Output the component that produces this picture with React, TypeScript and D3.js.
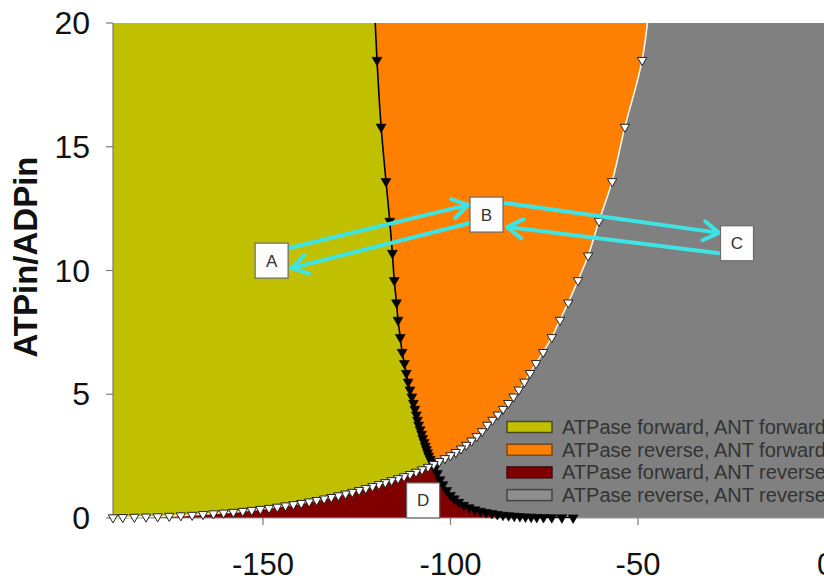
import React from 'react';
import * as d3 from 'd3';

const W = 824;
const H = 583;

const xDomain: [number, number] = [-190, 0];
const yDomain: [number, number] = [0, 20];
const xTicks = [-150, -100, -50, 0];
const yTicks = [0, 5, 10, 15, 20];

// ATPase boundary (black, filled down-triangles): [x, y]
const blackCurve: [number, number][] = [
  [-120.5, 21.5], [-119.6, 18.5], [-118.5, 15.8], [-117.2, 13.6], [-116.2, 12.0], [-115.5, 10.7],
  [-115.0, 9.6], [-114.4, 8.7], [-114.0, 8.0], [-113.4, 7.3], [-112.9, 6.7], [-112.3, 6.25],
  [-111.8, 5.85], [-111.3, 5.5], [-110.8, 5.18], [-110.3, 4.9], [-109.9, 4.64], [-109.5, 4.4],
  [-109.1, 4.17], [-108.8, 3.96], [-108.5, 3.76], [-108.1, 3.57], [-107.7, 3.39], [-107.4, 3.22],
  [-107.0, 3.06], [-106.7, 2.91], [-106.4, 2.77], [-106.1, 2.64], [-105.8, 2.51], [-105.4, 2.38],
  [-105.0, 2.26], [-104.6, 2.15], [-104.2, 2.0], [-103.5, 1.8], [-102.8, 1.55], [-102.0, 1.35],
  [-101.0, 1.12], [-100.0, 0.92], [-99.0, 0.78], [-97.8, 0.64], [-96.5, 0.52], [-95.0, 0.42],
  [-93.5, 0.34], [-92.0, 0.28], [-90.5, 0.23], [-89.0, 0.19], [-87.5, 0.15], [-86.0, 0.12],
  [-84.5, 0.10], [-83.0, 0.08], [-81.5, 0.065], [-80.0, 0.05], [-78.5, 0.04], [-77.0, 0.03],
  [-75.2, 0.025], [-73.0, 0.02], [-70.3, 0.015], [-67.3, 0.01],
];

// ANT boundary (white, open down-triangles): [x, y]
const whiteCurve: [number, number][] = [
  [-46.5, 21.5], [-48.9, 18.5], [-53.5, 15.8], [-56.9, 13.6], [-60.4, 12.0], [-63.3, 10.6],
  [-66.0, 9.6], [-68.6, 8.7], [-70.8, 8.0], [-73.0, 7.3], [-75.3, 6.7], [-77.2, 6.25],
  [-78.8, 5.85], [-80.3, 5.5], [-81.8, 5.18], [-83.2, 4.9], [-84.6, 4.64], [-86.0, 4.4],
  [-87.4, 4.17], [-88.8, 3.96], [-90.2, 3.76], [-91.6, 3.5], [-93.0, 3.3], [-94.4, 3.12],
  [-95.8, 2.95], [-97.2, 2.8], [-98.6, 2.66], [-100.0, 2.53], [-101.5, 2.41], [-103.0, 2.29],
  [-104.5, 2.17], [-106.0, 2.06], [-107.6, 1.96], [-109.2, 1.86], [-110.8, 1.77], [-112.4, 1.68],
  [-114.0, 1.6], [-115.7, 1.52], [-117.4, 1.44], [-119.1, 1.36], [-120.8, 1.28], [-122.6, 1.2],
  [-124.4, 1.12], [-126.2, 1.05], [-128.0, 0.98], [-129.9, 0.91], [-131.8, 0.84], [-133.7, 0.78],
  [-135.7, 0.72], [-137.7, 0.66], [-139.8, 0.6], [-141.9, 0.55], [-144.0, 0.5], [-146.2, 0.45],
  [-148.4, 0.4], [-150.7, 0.36], [-153.0, 0.32], [-155.4, 0.28], [-157.9, 0.24], [-160.5, 0.21],
  [-163.2, 0.18], [-166.0, 0.15], [-168.9, 0.12], [-171.9, 0.1], [-175.0, 0.08], [-178.1, 0.06],
  [-181.2, 0.05], [-184.3, 0.04], [-187.4, 0.03], [-190.0, 0.02],
];

const legendLabels = [
  'ATPase forward, ANT forward',
  'ATPase reverse, ANT forward',
  'ATPase forward, ANT reverse',
  'ATPase reverse, ANT reverse',
];

const annotationLabels = ['A', 'B', 'C', 'D'];
const annotationX = [-147.7, -90.4, -23.6, -107.3];
const annotationY = [10.4, 12.26, 11.1, 0.71];

// arrows: [fromX, fromY, toX, toY]
const arrows: [number, number, number, number][] = [
  [-143.3, 10.9, -95.3, 12.65],
  [-94.8, 11.92, -142.3, 10.1],
  [-85.5, 12.73, -28.4, 11.52],
  [-28.4, 10.7, -84.9, 11.76],
];

const COLORS = {
  yellow: '#c0c000',
  orange: '#ff8000',
  red: '#800000',
  gray: '#808080',
  cyan: '#3ee4e4',
};
const legendColors = [COLORS.yellow, COLORS.orange, COLORS.red, '#8e8e8e'];
const legendStrokes = ['#4a4a20', '#7a4a10', '#3a1010', '#444444'];

const FONT = '"Liberation Sans", Arial, Helvetica, sans-serif';

export default function App() {
  const x = d3.scaleLinear().domain(xDomain).range([113, 825.5]);
  const y = d3.scaleLinear().domain(yDomain).range([518, 23]);

  const x0 = x(xDomain[0]);
  const x1 = x(xDomain[1]);
  const yTop = y(yDomain[1]);
  const yBot = y(yDomain[0]);
  const yExt = Math.max(...blackCurve.map((d) => d[1]));

  const poly = (pts: [number, number][]) =>
    'M' + pts.map((p) => `${x(p[0])},${y(p[1])}`).join('L') + 'Z';

  const leftOfWhite = poly([...whiteCurve, [xDomain[0], yExt]]);
  const rightOfWhite = poly([...whiteCurve, [xDomain[0], yDomain[0]], [xDomain[1], yDomain[0]], [xDomain[1], yExt]]);
  const last = blackCurve[blackCurve.length - 1];
  const belowBlack = poly([[xDomain[0], yExt], ...blackCurve, [last[0], yDomain[0]], [xDomain[0], yDomain[0]]]);

  const line = d3
    .line<[number, number]>()
    .x((d) => x(d[0]))
    .y((d) => y(d[1]))
    .curve(d3.curveCatmullRom);

  const triBlack = d3.symbol().type(d3.symbolTriangle).size(42)() as string;
  const triWhite = d3.symbol().type(d3.symbolTriangle).size(38)() as string;

  const arrowHead = (fx: number, fy: number, tx: number, ty: number) => {
    const ang = Math.atan2(ty - fy, tx - fx);
    const len = 18;
    const a = (32 * Math.PI) / 180;
    const p1 = [tx - len * Math.cos(ang - a), ty - len * Math.sin(ang - a)];
    const p2 = [tx - len * Math.cos(ang + a), ty - len * Math.sin(ang + a)];
    return `M${p1[0]},${p1[1]}L${tx},${ty}L${p2[0]},${p2[1]}`;
  };

  return (
    <svg
      width={W}
      height={H}
      style={{ position: 'absolute', left: 0, top: 0, background: '#fff' }}
      fontFamily={FONT}
    >
      <defs>
        <clipPath id="plotClip">
          <rect x={x0} y={yTop} width={x1 - x0} height={yBot - yTop} />
        </clipPath>
        <clipPath id="belowBlackClip">
          <path d={belowBlack} />
        </clipPath>
      </defs>

      <g clipPath="url(#plotClip)">
        <rect x={x0} y={yTop} width={x1 - x0} height={yBot - yTop} fill={COLORS.gray} />
        <path d={leftOfWhite} fill={COLORS.orange} />
        <path d={belowBlack} fill={COLORS.yellow} />
        <g clipPath="url(#belowBlackClip)">
          <path d={rightOfWhite} fill={COLORS.red} />
        </g>
      </g>

      {/* axes */}
      <line x1={x0} x2={x0} y1={yTop} y2={yBot} stroke="#7a7a7a" strokeWidth={1.2} />
      <line x1={x0} x2={x1} y1={yBot} y2={yBot} stroke="#9a9a9a" strokeWidth={1.2} />
      {yTicks.map((t) => (
        <g key={'yt' + t}>
          <line x1={x0 - 7} x2={x0} y1={y(t)} y2={y(t)} stroke="#7a7a7a" strokeWidth={1.2} />
          <text x={90} y={y(t) + 11} textAnchor="end" fontSize={32} fill="#111">
            {t}
          </text>
        </g>
      ))}
      {xTicks.map((t) => (
        <g key={'xt' + t}>
          <line x1={x(t)} x2={x(t)} y1={yBot} y2={yBot + 7} stroke="#7a7a7a" strokeWidth={1.2} />
          <text x={x(t)} y={575} textAnchor="middle" fontSize={31} fill="#111">
            {t}
          </text>
        </g>
      ))}
      <text
        transform={`translate(37, 257) rotate(-90)`}
        textAnchor="middle"
        fontSize={33}
        fontWeight="bold"
        fill="#111"
      >
        ATPin/ADPin
      </text>

      {/* curves */}
      <g clipPath="url(#plotClip)">
        <path d={line(blackCurve) as string} fill="none" stroke="#000" strokeWidth={1.6} />
      </g>
      {blackCurve
        .filter((d) => d[1] <= yDomain[1])
        .map((d, i) => (
          <path
            key={'bm' + i}
            d={triBlack}
            transform={`translate(${x(d[0])},${y(d[1])}) rotate(180)`}
            fill="#000"
            stroke="#000"
            strokeWidth={0.6}
          />
        ))}
      <g clipPath="url(#plotClip)">
        <path d={line(whiteCurve) as string} fill="none" stroke="#fff4ea" strokeWidth={1.6} />
      </g>
      {whiteCurve
        .filter((d) => d[1] <= yDomain[1])
        .map((d, i) => (
          <path
            key={'wm' + i}
            d={triWhite}
            transform={`translate(${x(d[0])},${y(d[1])}) rotate(180)`}
            fill="#fff"
            stroke="#222"
            strokeWidth={1}
          />
        ))}

      {/* arrows */}
      {arrows.map((a, i) => {
        const fx = x(a[0]);
        const fy = y(a[1]);
        const tx = x(a[2]);
        const ty = y(a[3]);
        return (
          <g key={'ar' + i} stroke={COLORS.cyan} strokeWidth={4} fill="none" strokeLinecap="round" strokeLinejoin="round">
            <line x1={fx} y1={fy} x2={tx} y2={ty} />
            <path d={arrowHead(fx, fy, tx, ty)} />
          </g>
        );
      })}

      {/* annotation boxes */}
      {annotationLabels.map((lab, i) => (
        <g key={'an' + lab} transform={`translate(${x(annotationX[i])},${y(annotationY[i])})`}>
          <rect x={-16.5} y={-17.5} width={33} height={35} fill="#fdfdfd" stroke="#6a6a6a" strokeWidth={1.2} />
          <text x={0} y={6} textAnchor="middle" fontSize={17} fill="#333">
            {lab}
          </text>
        </g>
      ))}

      {/* legend */}
      {legendLabels.map((lab, i) => {
        const cy = 427 + i * 22.7;
        return (
          <g key={'lg' + i}>
            <rect x={507} y={cy - 5.5} width={45} height={11} fill={legendColors[i]} stroke={legendStrokes[i]} strokeWidth={1.5} />
            <text x={562} y={cy + 7} fontSize={20} fill="#333">
              {lab}
            </text>
          </g>
        );
      })}
    </svg>
  );
}
